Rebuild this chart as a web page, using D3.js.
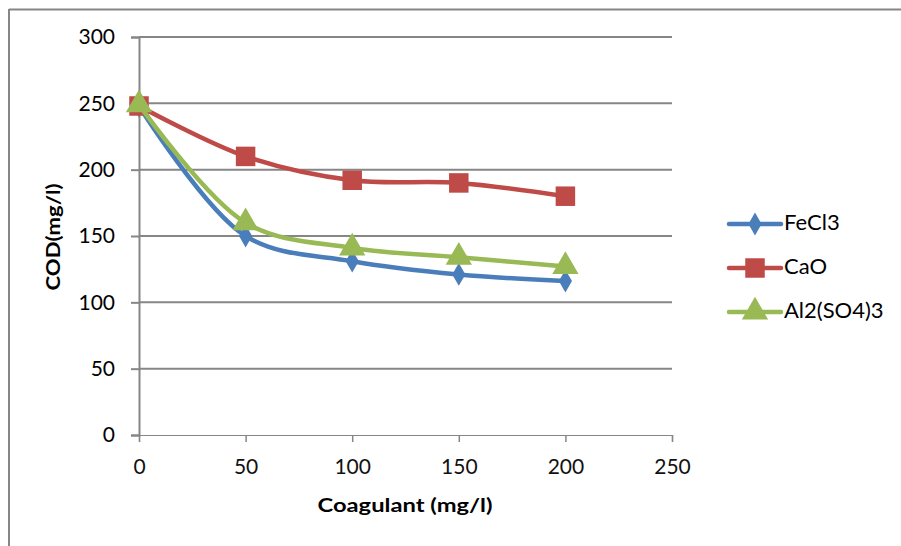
<!DOCTYPE html>
<html><head><meta charset="utf-8">
<script src="https://cdn.jsdelivr.net/npm/d3@7"></script>
<style>body{margin:0;background:#fff}svg{display:block}text{font-family:Lato,"Open Sans",sans-serif}</style>
</head><body>
<svg id="c" width="901" height="546"></svg>
<script>
const xValues = [0, 50, 100, 150, 200];
const seriesNames = ["FeCl3", "CaO", "Al2(SO4)3"];
const feCl3 = [248, 150, 131, 121, 116];
const caO = [248, 210, 192, 190, 180];
const al2so43 = [249, 160, 141, 134, 127];
const xTicks = [0, 50, 100, 150, 200, 250];
const yTicks = [0, 50, 100, 150, 200, 250, 300];
const xTitle = "Coagulant (mg/l)";
const yTitle = "COD(mg/l)";

const colors = ["#4A7EBB", "#BE4B48", "#98B954"];
const symbols = [d3.symbolDiamond, d3.symbolSquare, d3.symbolTriangle];
const symSizes = [150, 380, 300];
const data = [feCl3, caO, al2so43];

const svg = d3.select("#c");
const grey = "#868686";
// outer frame (cropped on right and bottom)
svg.append("line").attr("x1", 9).attr("x2", 901).attr("y1", 9.5).attr("y2", 9.5).attr("stroke", grey).attr("stroke-width", 2);
svg.append("line").attr("x1", 9).attr("x2", 9).attr("y1", 9).attr("y2", 546).attr("stroke", grey).attr("stroke-width", 2);

const x = d3.scaleLinear().domain([0, 250]).range([139, 672]);
const y = d3.scaleLinear().domain([0, 300]).range([435, 37]);

// gridlines
svg.append("g").selectAll("line").data(yTicks.filter(d => d > 0)).join("line")
  .attr("x1", x(0)).attr("x2", x(250)).attr("y1", d => y(d)).attr("y2", d => y(d))
  .attr("stroke", grey).attr("stroke-width", 2);

// y axis
const ya = svg.append("g").attr("transform", `translate(${x(0)},0)`)
  .call(d3.axisLeft(y).tickValues(yTicks).tickSize(8).tickPadding(16));
ya.select(".domain").attr("stroke", grey).attr("stroke-width", 2);
ya.selectAll(".tick line").attr("stroke", grey).attr("stroke-width", 2);
ya.selectAll("text").attr("font-size", 21).attr("fill", "#000").attr("font-family", "Lato");

// x axis
const xa = svg.append("g").attr("transform", `translate(0,${y(0)})`)
  .call(d3.axisBottom(x).tickValues(xTicks).tickSize(7).tickPadding(17));
xa.select(".domain").attr("stroke", grey).attr("stroke-width", 1.2);
xa.selectAll(".tick line").attr("stroke", grey).attr("stroke-width", 1.5);
xa.selectAll("text").attr("font-size", 21).attr("fill", "#111").attr("font-family", "Lato");

// titles
svg.append("text").attr("x", 405).attr("y", 507).attr("text-anchor", "middle").attr("dominant-baseline", "middle")
  .attr("font-size", 19).attr("font-weight", "bold").attr("textLength", 175).attr("lengthAdjust", "spacingAndGlyphs").text(xTitle);
svg.append("text").attr("transform", "translate(55,237) rotate(-90)").attr("text-anchor", "middle").attr("dominant-baseline", "middle")
  .attr("font-size", 19).attr("font-weight", "bold").attr("textLength", 107).attr("lengthAdjust", "spacingAndGlyphs").text(yTitle);

// series
const line = d3.line().x((d, i) => x(xValues[i])).y(d => y(d)).curve(d3.curveCatmullRom.alpha(0.5));
data.forEach((vals, si) => {
  const g = svg.append("g");
  g.append("path").attr("d", line(vals)).attr("fill", "none").attr("stroke", colors[si])
    .attr("stroke-width", 4.5).attr("stroke-linejoin", "round").attr("stroke-linecap", "round");
  g.selectAll("path.m").data(vals).join("path").attr("class", "m")
    .attr("transform", (d, i) => `translate(${x(xValues[i])},${y(d)})`)
    .attr("d", d3.symbol().type(symbols[si]).size(symSizes[si])).attr("fill", colors[si]);
});

// legend
const ly = [224, 268, 312];
seriesNames.forEach((n, i) => {
  const g = svg.append("g").attr("transform", `translate(0,${ly[i]})`);
  g.append("line").attr("x1", 729).attr("x2", 781).attr("stroke", colors[i]).attr("stroke-width", 4.5).attr("stroke-linecap", "round");
  g.append("path").attr("transform", "translate(755,0)").attr("d", d3.symbol().type(symbols[i]).size(symSizes[i])).attr("fill", colors[i]);
  g.append("text").attr("x", 784).attr("y", 0).attr("dominant-baseline", "middle").attr("font-size", 22).attr("fill", "#000").text(n);
});
</script>
</body></html>
